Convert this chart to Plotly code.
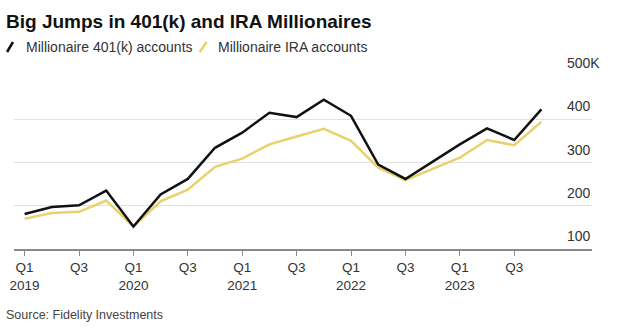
import plotly.graph_objects as go

# Quarterly counts of millionaire accounts (thousands), Q1 2019 - Q4 2023
quarters = [
    "Q1 2019", "Q2 2019", "Q3 2019", "Q4 2019",
    "Q1 2020", "Q2 2020", "Q3 2020", "Q4 2020",
    "Q1 2021", "Q2 2021", "Q3 2021", "Q4 2021",
    "Q1 2022", "Q2 2022", "Q3 2022", "Q4 2022",
    "Q1 2023", "Q2 2023", "Q3 2023", "Q4 2023",
]
k401 = [181, 197, 201, 235, 152, 226, 262, 334, 369, 415, 405, 445,
        408, 295, 262, 302, 342, 379, 352, 423]
ira = [170, 183, 186, 212, 152, 210, 237, 290, 309, 342, 360, 378,
       350, 288, 259, 285, 311, 352, 340, 394]

tick_idx = list(range(0, 20, 2))
tick_text = ["Q1<br>2019", "Q3", "Q1<br>2020", "Q3", "Q1<br>2021", "Q3",
             "Q1<br>2022", "Q3", "Q1<br>2023", "Q3"]
y_grid = [200, 300, 400, 500]
y_labels = ["100", "200", "300", "400", "500K"]
y_label_vals = [100, 200, 300, 400, 500]

BLACK = "#111111"
GOLD = "#e9d16b"
FONT = "Liberation Sans, Arial, sans-serif"

W, H = 620, 329
L, R, T, B = 10, 28, 76, 80
pw, ph = W - L - R, H - T - B


def px(x):
    return (x - L) / pw


def py(y):
    return (H - B - y) / ph


x = list(range(len(quarters)))

fig = go.Figure()
fig.add_trace(go.Scatter(x=x, y=ira, mode="lines", name="Millionaire IRA accounts",
                         line=dict(color=GOLD, width=2.5), hoverinfo="skip"))
fig.add_trace(go.Scatter(x=x, y=k401, mode="lines", name="Millionaire 401(k) accounts",
                         line=dict(color=BLACK, width=2.5), hoverinfo="skip"))

annotations = [
    dict(text="<b>Big Jumps in 401(k) and IRA Millionaires</b>", xref="paper", yref="paper",
         x=px(0), y=py(21), xanchor="left", yanchor="middle", showarrow=False,
         font=dict(size=19, color="#111", family=FONT)),
    dict(text="Millionaire 401(k) accounts", xref="paper", yref="paper",
         x=px(20), y=py(47), xanchor="left", yanchor="middle", showarrow=False,
         font=dict(size=14, color="#333", family=FONT)),
    dict(text="Millionaire IRA accounts", xref="paper", yref="paper",
         x=px(213), y=py(47), xanchor="left", yanchor="middle", showarrow=False,
         font=dict(size=14, color="#333", family=FONT)),
    dict(text="Source: Fidelity Investments", xref="paper", yref="paper",
         x=px(0), y=py(315), xanchor="left", yanchor="middle", showarrow=False,
         font=dict(size=12.5, color="#444", family=FONT)),
]
for v, t in zip(y_label_vals, y_labels):
    annotations.append(dict(text=t, xref="paper", yref="y", x=px(565), y=v,
                            xanchor="left", yanchor="middle", yshift=13, showarrow=False,
                            font=dict(size=14, color="#333", family=FONT)))

shapes = [
    dict(type="line", xref="paper", yref="paper", x0=px(3), y0=py(52), x1=px(9), y1=py(42),
         line=dict(color=BLACK, width=2.5)),
    dict(type="line", xref="paper", yref="paper", x0=px(197), y0=py(52), x1=px(204), y1=py(42),
         line=dict(color=GOLD, width=2.5)),
]

fig.update_layout(
    width=W, height=H,
    margin=dict(l=L, r=R, t=T, b=B),
    paper_bgcolor="white", plot_bgcolor="white",
    showlegend=False,
    annotations=annotations,
    shapes=shapes,
    xaxis=dict(range=[-0.39, 20.86], tickvals=tick_idx, ticktext=tick_text,
               showgrid=False, zeroline=False, showline=True, linecolor="#8a8a8a",
               linewidth=2, ticks="outside", ticklen=5, tickcolor="#8a8a8a",
               tickfont=dict(size=13.5, color="#333", family=FONT)),
    yaxis=dict(range=[100, 500], tickvals=y_grid, showticklabels=False,
               showgrid=True, gridcolor="#e2e2e2", gridwidth=1, zeroline=False),
)

fig.write_html("out.html")
